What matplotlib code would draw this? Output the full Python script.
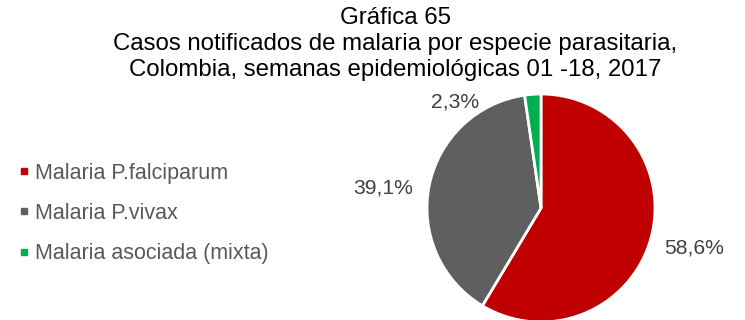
import matplotlib.pyplot as plt
import numpy as np
from matplotlib.lines import Line2D

plt.rcParams['font.family'] = ['Liberation Sans', 'DejaVu Sans']

# Casos de malaria por especie parasitaria (%)
especies = ['Malaria P.falciparum', 'Malaria P.vivax', 'Malaria asociada (mixta)']
porcentajes = [58.6, 39.1, 2.3]
colores = ['#C00000', '#5F5F5F', '#00B050']

titulo = ('Gráfica 65\n'
          'Casos notificados de malaria por especie parasitaria,\n'
          'Colombia, semanas epidemiológicas 01 -18, 2017')

W, H = 745, 320
fig = plt.figure(figsize=(W / 100, H / 100), dpi=100)

# pie axes placed in pixel units: center and radius
cx, cy, r = 541, 112, 114
lim = 1.1
side = 2 * lim * r
ax = fig.add_axes([(cx - side / 2) / W, (cy - side / 2) / H, side / W, side / H])

wedges, _ = ax.pie(porcentajes, colors=colores, startangle=90, counterclock=False,
                   wedgeprops=dict(edgecolor='white', linewidth=2))
ax.set_xlim(-lim, lim)
ax.set_ylim(-lim, lim)
ax.set_aspect('equal')
ax.axis('off')

# label radius and angular shift for each wedge
lab_dist = [1.39, 1.40, 1.2]
lab_shift = [1, 4, 35]
for w, p, d, s in zip(wedges, porcentajes, lab_dist, lab_shift):
    ang = np.deg2rad((w.theta1 + w.theta2) / 2 + s)
    ax.text(d * np.cos(ang), d * np.sin(ang), f'{p:.1f}%'.replace('.', ','),
            ha='center', va='center', fontsize=15.2, color='#404040')

fig.text(395 / W, 1 - 7 / H, titulo, ha='center', va='top', fontsize=17.3,
         linespacing=1.24, color='black')

handles = [Line2D([], [], marker='s', linestyle='none', markersize=4.3,
                  markerfacecolor=c, markeredgecolor=c) for c in colores]
leg = fig.legend(handles, especies, loc='upper left', bbox_to_anchor=(10 / W, 1 - 154 / H),
                 frameon=False, fontsize=15.5, handlelength=0.5, handletextpad=0.25,
                 labelspacing=0.9, borderaxespad=0)
for t in leg.get_texts():
    t.set_color('#595959')

fig.savefig('out.png', dpi=100)
